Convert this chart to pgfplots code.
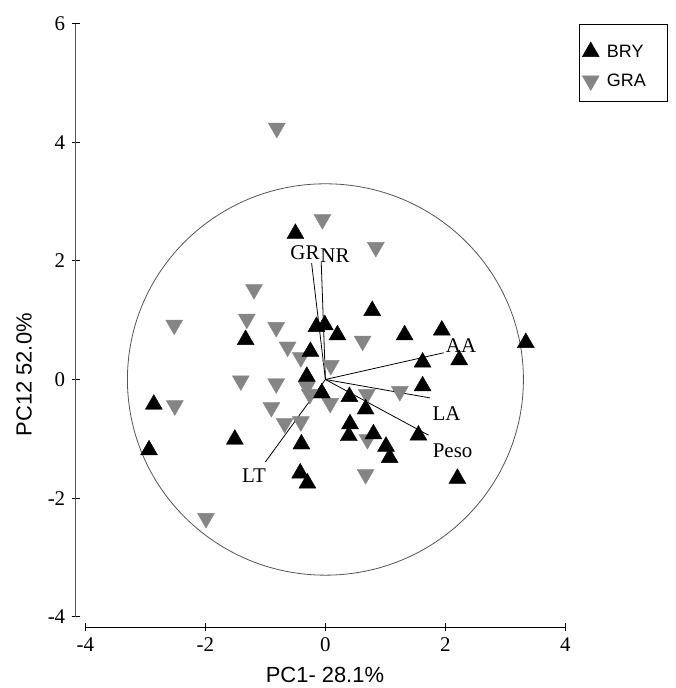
\documentclass[border=0pt]{standalone}
\usepackage{fontspec}
\setmainfont{Liberation Serif}
\setsansfont{Liberation Sans}
\usepackage{pgfplots}
\pgfplotsset{compat=1.18}
\definecolor{ptgray}{HTML}{858585}
\definecolor{axgray}{HTML}{555555}
\begin{document}
\begin{tikzpicture}[x=1bp,y=1bp]
\path[use as bounding box] (0,0) rectangle (676,688);
\begin{axis}[
  at={(75.7bp,61bp)}, anchor=south west,
  scale only axis, width=489.7bp, height=603.3bp,
  xmin=-4.162, xmax=4, ymin=-4.174, ymax=6,
  axis lines=left, axis line style={draw=none},
  xtick={-4,-2,0,2,4}, ytick={-4,-2,0,2,4,6},
  tick align=center, major tick length=8bp,
  tick style={black, line width=0.8bp},
  /pgf/number format/assume math mode=true,
  ticklabel style={font=\fontsize{21}{24}\selectfont},
  yticklabel style={xshift=-3bp},
  xticklabel style={yshift=-3bp},
  clip=false,
  xlabel={PC1- 28.1\%},
  ylabel={PC12 52.0\%},
  xlabel style={at={(axis description cs:0.509,-0.0795)}, anchor=center, font=\sffamily\fontsize{22}{25}\selectfont},
  ylabel style={at={(axis description cs:-0.1056,0.418)}, anchor=center, font=\sffamily\fontsize{22}{25}\selectfont},
  legend style={draw=none, fill=none, at={(rel axis cs:1.034,0.9700)}, anchor=north west,
    font=\sffamily\fontsize{18}{21}\selectfont, row sep=11bp, inner sep=0pt},
  legend cell align=left,
  legend image code/.code={\draw[#1] plot coordinates {(8bp,0bp)}; \path (0bp,0bp) (22bp,0bp);},
]
\draw[black, line width=0.8bp] (axis cs:-4,-4.174) -- (axis cs:4,-4.174);
\draw[axgray, line width=0.9bp] (axis cs:-4.162,-4) -- (axis cs:-4.162,6);
\draw[black, line width=0.8bp] (rel axis cs:1.0278,0.9995) rectangle (rel axis cs:1.2075,0.8719);

\draw[axgray, line width=0.8bp] (axis cs:0,0) ellipse [x radius=3.3, y radius=3.3];

% GRA
\addplot[only marks, mark=triangle*, mark size=9.8bp, color=ptgray, mark options={rotate=180, fill=ptgray, draw=ptgray}, forget plot] coordinates {
(-0.81,4.24) (-0.05,2.70) (0.84,2.23) (-1.19,1.52) (-2.52,0.92) (-1.31,1.02)
(-0.82,0.88) (0.62,0.65) (-0.63,0.55) (-0.41,0.37) (0.09,0.24) (-1.41,-0.02)
(-0.82,-0.07) (-0.31,-0.12) (-0.26,-0.25) (-2.51,-0.44) (-0.90,-0.47) (0.08,-0.40)
(-0.68,-0.74) (-0.41,-0.71) (-1.99,-2.34) (1.24,-0.20) (0.69,-0.25) (0.70,-1.01)
(0.67,-1.60)
};
% BRY
\addplot[only marks, mark=triangle*, mark size=9.8bp, color=black, mark options={fill=black, draw=black}] coordinates {
(-0.50,2.46) (-1.33,0.67) (-0.15,0.89) (-0.01,0.92) (0.20,0.75) (0.78,1.16)
(1.32,0.75) (1.94,0.83) (3.34,0.62) (-0.25,0.47) (-0.31,0.05) (-0.06,-0.23)
(-2.86,-0.42) (-1.51,-1.01) (-0.40,-1.09) (-2.94,-1.19) (-0.42,-1.58) (-0.30,-1.75)
(0.40,-0.29) (1.62,0.29) (2.23,0.33) (1.62,-0.11) (0.67,-0.50) (0.41,-0.75)
(0.39,-0.95) (0.80,-0.92) (1.01,-1.13) (1.07,-1.32) (1.55,-0.94) (2.20,-1.67)
};
\addlegendentry{BRY}
\addlegendimage{only marks, mark=triangle*, mark size=9.8bp, color=ptgray, mark options={rotate=180, fill=ptgray, draw=ptgray}}
\addlegendentry{GRA}

% loading vectors
\addplot[black, line width=0.8bp, forget plot] coordinates {(0,0) (-0.23,1.96)};
\addplot[black, line width=0.8bp, forget plot] coordinates {(0,0) (-0.07,1.98)};
\addplot[black, line width=0.8bp, forget plot] coordinates {(0,0) (1.97,0.45)};
\addplot[black, line width=0.8bp, forget plot] coordinates {(0,0) (1.74,-0.31)};
\addplot[black, line width=0.8bp, forget plot] coordinates {(0,0) (1.72,-0.94)};
\addplot[black, line width=0.8bp, forget plot] coordinates {(0,0) (-1.00,-1.39)};

\node[font=\fontsize{21}{24}\selectfont, inner sep=0pt] at (axis cs:-0.34,2.14) {GR};
\node[font=\fontsize{21}{24}\selectfont, inner sep=0pt] at (axis cs:0.16,2.09) {NR};
\node[font=\fontsize{21}{24}\selectfont, inner sep=0pt] at (axis cs:2.26,0.57) {AA};
\node[font=\fontsize{21}{24}\selectfont, inner sep=0pt] at (axis cs:2.02,-0.58) {LA};
\node[font=\fontsize{21}{24}\selectfont, inner sep=0pt] at (axis cs:2.12,-1.20) {Peso};
\node[font=\fontsize{21}{24}\selectfont, inner sep=0pt] at (axis cs:-1.19,-1.62) {LT};
\end{axis}
\end{tikzpicture}
\end{document}
